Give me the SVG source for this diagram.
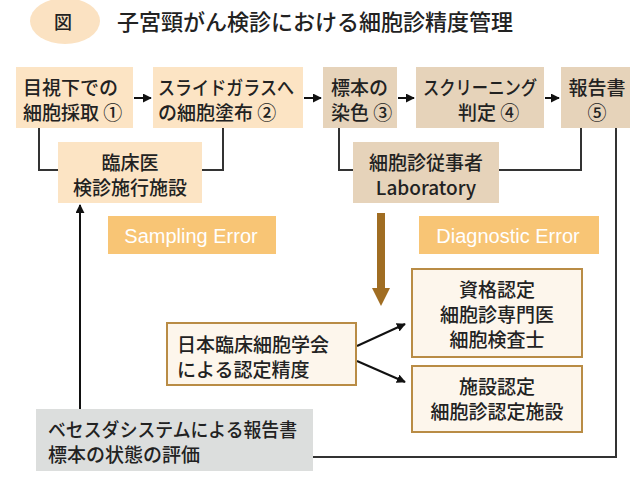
<svg xmlns="http://www.w3.org/2000/svg" width="633" height="482" viewBox="0 0 633 482">
<defs>
<style>
text{font-family:"Noto Sans CJK JP","Noto Sans",sans-serif;fill:#222;dominant-baseline:central;font-weight:500}
.t{font-size:19px}
.peach{fill:#FCE4C4}
.beige{fill:#E6D3BA}
.err{fill:#F8C575}
.cream{fill:#FDF6EC;stroke:#B98C45;stroke-width:2}
.gray{fill:#DCDEDD}
.ln{fill:none;stroke:#333;stroke-width:2}
.ar{fill:none;stroke:#111;stroke-width:2;marker-end:url(#ah)}
.w{fill:#fff;font-size:20px;font-weight:normal;font-family:"Liberation Sans","Noto Sans",sans-serif}
</style>
<marker id="ah" viewBox="0 0 10 10" refX="9" refY="5" markerWidth="4.5" markerHeight="4.5" orient="auto" markerUnits="strokeWidth">
<path d="M0,0 L10,5 L0,10 z" fill="#111"/>
</marker>
</defs>
<rect width="633" height="482" fill="#fff"/>
<g id="title">
<ellipse cx="65" cy="21" rx="35" ry="23" fill="#FBE2C2"/>
<text x="63" y="21" font-size="18" font-weight="bold" text-anchor="middle">図</text>
<text x="117" y="20" font-size="22">子宮頸がん検診における細胞診精度管理</text>
</g>
<g id="connectors">
<path class="ln" d="M39,128 V170 H58"/>
<path class="ln" d="M223,128 V170 H202"/>
<path class="ln" d="M339,128 V170 H353"/>
<path class="ln" d="M581,128 V170 H499"/>
<path class="ln" d="M616,128 V457 H313"/>
<path class="ar" d="M80,409 V205"/>
<path class="ar" d="M134,98 H151"/>
<path class="ar" d="M304,98 H321"/>
<path class="ar" d="M398,98 H414"/>
<path class="ar" d="M545,98 H559"/>
<path class="ar" d="M357,346 L405,324"/>
<path class="ar" d="M357,361 L405,382"/>
<g id="brown-arrow" fill="#A06D22">
<rect x="377" y="213" width="8" height="77"/>
<polygon points="372,288 390,288 381,306"/>
</g>
</g>
<g id="n1"><rect class="peach" x="16" y="67" width="117" height="61"/>
<text class="t" x="23" y="86">目視下での</text><text class="t" x="23" y="111">細胞採取 ①</text></g>
<g id="n2"><rect class="peach" x="153" y="67" width="150" height="61"/>
<text class="t" x="158" y="86" textLength="136" lengthAdjust="spacingAndGlyphs">スライドガラスへ</text><text class="t" x="158" y="111">の細胞塗布 ②</text></g>
<g id="n3"><rect class="beige" x="323" y="67" width="74" height="61"/>
<text class="t" x="331" y="86">標本の</text><text class="t" x="331" y="111">染色 ③</text></g>
<g id="n4"><rect class="beige" x="416" y="67" width="128" height="61"/>
<text class="t" x="423" y="86" textLength="114" lengthAdjust="spacingAndGlyphs">スクリーニング</text><text class="t" x="458" y="111">判定 ④</text></g>
<g id="n5"><rect class="beige" x="561" y="67" width="69" height="61"/>
<text class="t" x="597" y="86" text-anchor="middle">報告書</text><text class="t" x="597" y="111" text-anchor="middle">⑤</text></g>
<g id="clinic"><rect class="peach" x="58" y="142" width="144" height="61"/>
<text class="t" x="130" y="161" text-anchor="middle">臨床医</text><text class="t" x="130" y="186" text-anchor="middle">検診施行施設</text></g>
<g id="lab"><rect class="beige" x="353" y="142" width="146" height="61"/>
<text class="t" x="426" y="161" text-anchor="middle">細胞診従事者</text><text class="t" x="426" y="186" text-anchor="middle">Laboratory</text></g>
<g id="sampling"><rect class="err" x="108" y="216" width="168" height="38"/>
<text class="w" x="191" y="236" text-anchor="middle">Sampling Error</text></g>
<g id="diagnostic"><rect class="err" x="419" y="216" width="180" height="38"/>
<text class="w" x="508" y="236" text-anchor="middle">Diagnostic Error</text></g>
<g id="society"><rect class="cream" x="167" y="323" width="189" height="62"/>
<text class="t" x="177" y="343">日本臨床細胞学会</text><text class="t" x="177" y="368">による認定精度</text></g>
<g id="qual"><rect class="cream" x="412" y="269" width="170" height="88"/>
<text class="t" x="497" y="288" text-anchor="middle">資格認定</text><text class="t" x="497" y="313" text-anchor="middle">細胞診専門医</text><text class="t" x="497" y="338" text-anchor="middle">細胞検査士</text></g>
<g id="facility"><rect class="cream" x="412" y="366" width="170" height="66"/>
<text class="t" x="497" y="385" text-anchor="middle">施設認定</text><text class="t" x="497" y="410" text-anchor="middle">細胞診認定施設</text></g>
<g id="bethesda"><rect class="gray" x="36" y="409" width="277" height="62"/>
<text class="t" x="48" y="428" textLength="249" lengthAdjust="spacingAndGlyphs">ベセスダシステムによる報告書</text><text class="t" x="48" y="453">標本の状態の評価</text></g>
</svg>
